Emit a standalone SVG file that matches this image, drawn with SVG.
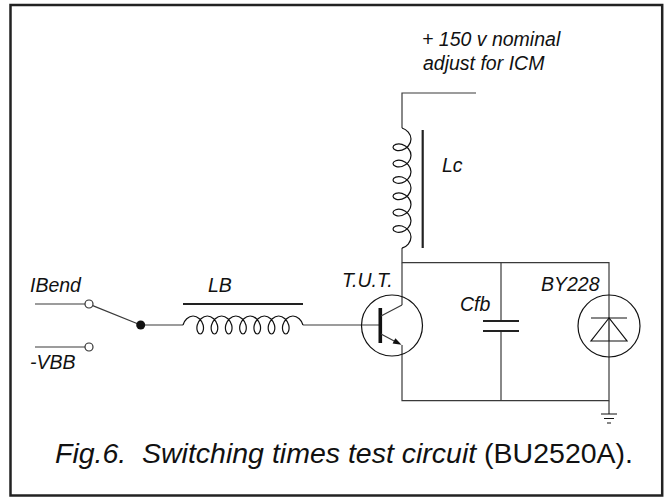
<svg xmlns="http://www.w3.org/2000/svg" width="665" height="498" viewBox="0 0 665 498">
<style>
.w{fill:none;stroke:#3a3a3a;stroke-width:1.2}
.k{fill:none;stroke:#111;stroke-width:1.2}
.core{stroke:#222;stroke-width:2.2}
.t{font-family:"Liberation Sans",Arial,sans-serif;font-style:italic;font-size:19.5px;fill:#111}
.cap{font-family:"Liberation Sans",Arial,sans-serif;font-size:28.5px;fill:#111}
</style>
<rect x="0" y="0" width="665" height="498" fill="#fff"/>
<rect x="10.5" y="5" width="651.7" height="490.5" fill="none" stroke="#222" stroke-width="2.5"/>
<g id="connectors">
<path class="w" d="M476,93H402V128"/>
<path class="w" d="M402,248V262.7H609V400.7H402V345"/>
<path class="w" d="M402,305V262.7"/>
<path class="w" d="M501,262.7V321M501,331V400.7"/>
<path class="w" d="M140.7,325H183M303,325H380"/>
<path class="w" d="M609,400.7V414"/>
</g>
<g id="supply">
<text class="t" x="422" y="46">+ 150 v nominal</text>
<text class="t" x="423" y="70">adjust for ICM</text>
</g>
<g id="Lc">
<path class="k" d="M402,128c4.712,1.361 9,6.057 9,11.084c0,5.027 -4.288,9.723 -9,11.084c-4.712,1.361 -9,-0.612 -9,-2.916c0,-2.304 4.288,-4.277 9,-2.916c4.712,1.361 9,6.057 9,11.084c0,5.027 -4.288,9.723 -9,11.084c-4.712,1.361 -9,-0.612 -9,-2.916c0,-2.304 4.288,-4.277 9,-2.916c4.712,1.361 9,6.057 9,11.084c0,5.027 -4.288,9.723 -9,11.084c-4.712,1.361 -9,-0.612 -9,-2.916c0,-2.304 4.288,-4.277 9,-2.916c4.712,1.361 9,6.057 9,11.084c0,5.027 -4.288,9.723 -9,11.084c-4.712,1.361 -9,-0.612 -9,-2.916c0,-2.304 4.288,-4.277 9,-2.916c4.712,1.361 9,6.057 9,11.084c0,5.027 -4.288,9.723 -9,11.084c-4.712,1.361 -9,-0.612 -9,-2.916c0,-2.304 4.288,-4.277 9,-2.916c4.712,1.361 9,6.057 9,11.084c0,5.027 -4.288,9.723 -9,11.084c-4.712,1.361 -9,-0.612 -9,-2.916c0,-2.304 4.288,-4.277 9,-2.916c4.712,1.361 9,6.057 9,11.084c0,5.027 -4.288,9.723 -9,11.084"/>
<line class="core" x1="422.7" y1="130" x2="422.7" y2="248"/>
<text class="t" x="442" y="172">Lc</text>
</g>
<g id="switch">
<path class="w" d="M35,304H85M35,347H85M92.7,305.6L140.7,325"/>
<circle cx="89" cy="304" r="4" fill="#fff" stroke="#333" stroke-width="1.2"/>
<circle cx="89" cy="347" r="4" fill="#fff" stroke="#333" stroke-width="1.2"/>
<circle cx="140.7" cy="325" r="4.5" fill="#111"/>
<text class="t" x="30" y="292">IBend</text>
<text class="t" x="30" y="369">-VBB</text>
</g>
<g id="LB">
<path class="k" d="M183,325c1.19,-4.71 5.476,-9 10.066,-9c4.59,0 8.875,4.29 10.065,9c1.19,4.71 -0.719,9 -2.934,9c-2.215,0 -4.124,-4.29 -2.934,-9c1.19,-4.71 5.476,-9 10.066,-9c4.59,0 8.875,4.29 10.065,9c1.19,4.71 -0.719,9 -2.934,9c-2.215,0 -4.124,-4.29 -2.934,-9c1.19,-4.71 5.476,-9 10.066,-9c4.59,0 8.875,4.29 10.065,9c1.19,4.71 -0.719,9 -2.934,9c-2.215,0 -4.124,-4.29 -2.934,-9c1.19,-4.71 5.476,-9 10.066,-9c4.59,0 8.875,4.29 10.065,9c1.19,4.71 -0.719,9 -2.934,9c-2.215,0 -4.124,-4.29 -2.934,-9c1.19,-4.71 5.476,-9 10.066,-9c4.59,0 8.875,4.29 10.065,9c1.19,4.71 -0.719,9 -2.934,9c-2.215,0 -4.124,-4.29 -2.934,-9c1.19,-4.71 5.476,-9 10.066,-9c4.59,0 8.875,4.29 10.065,9c1.19,4.71 -0.719,9 -2.934,9c-2.215,0 -4.124,-4.29 -2.934,-9c1.19,-4.71 5.476,-9 10.066,-9c4.59,0 8.875,4.29 10.065,9c1.19,4.71 -0.719,9 -2.934,9c-2.215,0 -4.124,-4.29 -2.934,-9c1.19,-4.71 5.476,-9 10.066,-9c4.59,0 8.875,4.29 10.065,9"/>
<line class="core" x1="183" y1="304" x2="303" y2="304"/>
<text class="t" x="208" y="292">LB</text>
</g>
<g id="TUT">
<circle cx="392" cy="325.5" r="30.5" class="k"/>
<rect x="378.5" y="308" width="3.6" height="35" fill="#111"/>
<path class="w" d="M381,316L402,305M381,334L396,342"/>
<polygon points="401.5,344.8 392.6,343.6 395.4,338.2" fill="#111"/>
<text class="t" x="342" y="287">T.U.T.</text>
</g>
<g id="Cfb">
<path class="core" d="M483,321H519M483,331H519" stroke-width="1.4"/>
<text class="t" x="460" y="311">Cfb</text>
</g>
<g id="BY228">
<circle cx="609" cy="326" r="31" class="k"/>
<path class="k" d="M591,318H627"/>
<polygon points="609,318 591,341 627,341" fill="#fff" stroke="#111" stroke-width="1.2"/>
<path class="k" d="M609,318V341"/>
<text class="t" x="541" y="291">BY228</text>
</g>
<g id="ground">
<path class="k" d="M601,414H617M604,418.5H614M607,423H611"/>
</g>
<g id="caption">
<text class="cap" x="55" y="463"><tspan font-style="italic">Fig.6.</tspan><tspan x="142" font-style="italic">Switching times test circuit</tspan> (BU2520A).</text>
</g>
</svg>
